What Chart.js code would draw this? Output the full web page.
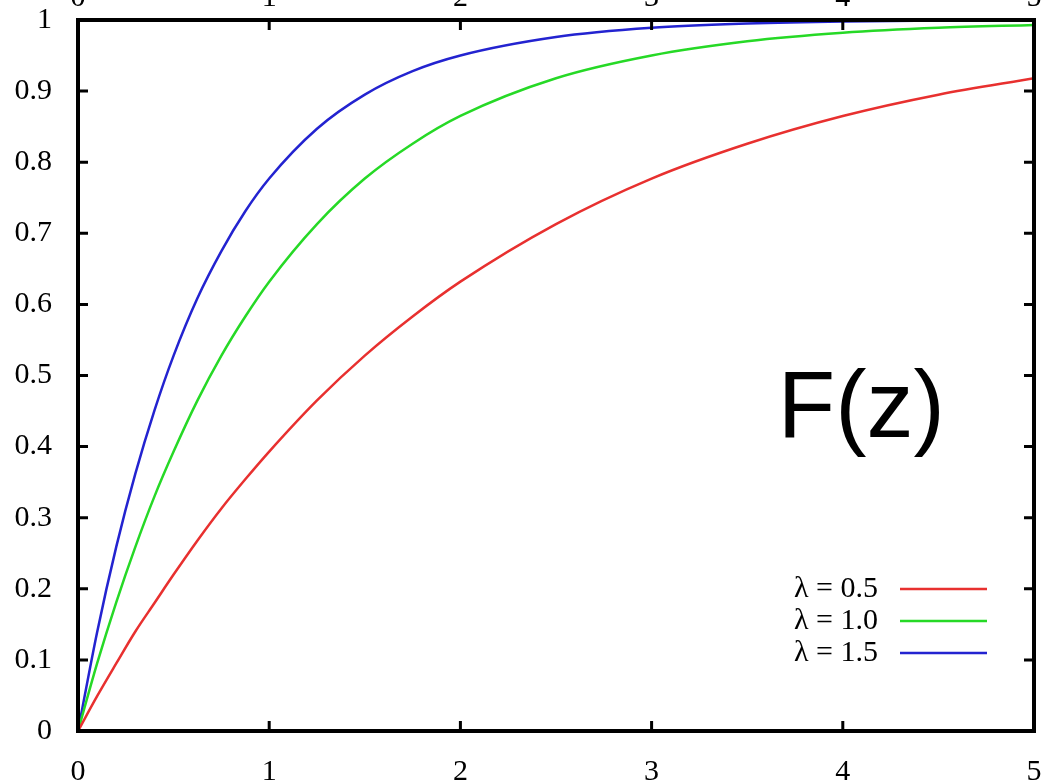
<!DOCTYPE html>
<html>
<head>
<meta charset="utf-8">
<script src="https://cdn.jsdelivr.net/npm/chart.js@4/dist/chart.umd.min.js"></script>
<style>
  html, body { margin: 0; padding: 0; background: #fff; overflow: hidden; }
  #wrap { position: absolute; left: 0; top: -30px; }
</style>
</head>
<body>
<div id="wrap"><canvas id="cdf" width="1046" height="811"></canvas></div>
<script>
// values
const zValues = [0, 0.1, 0.2, 0.3, 0.4, 0.5, 0.625, 0.75, 0.875, 1, 1.25, 1.5, 1.75, 2, 2.5, 3, 3.5, 4, 4.5, 5];
const lambda05 = [0, 0.049, 0.095, 0.14, 0.18, 0.22, 0.268, 0.313, 0.354, 0.393, 0.465, 0.528, 0.583, 0.632, 0.713, 0.777, 0.826, 0.865, 0.895, 0.918];
const lambda10 = [0, 0.095, 0.181, 0.259, 0.33, 0.393, 0.465, 0.528, 0.583, 0.632, 0.713, 0.777, 0.826, 0.865, 0.918, 0.95, 0.97, 0.982, 0.989, 0.993];
const lambda15 = [0, 0.139, 0.259, 0.362, 0.451, 0.528, 0.609, 0.675, 0.731, 0.777, 0.847, 0.895, 0.928, 0.95, 0.976, 0.989, 0.995, 0.998, 0.999, 0.9995];
const seriesLabels = ['λ = 0.5', 'λ = 1.0', 'λ = 1.5'];
const seriesColors = ['#e8302f', '#26d926', '#2323d0'];

const xTicks = [0, 1, 2, 3, 4, 5];
const xTickLabels = ['0', '1', '2', '3', '4', '5'];
const yTicks = [0, 0.1, 0.2, 0.3, 0.4, 0.5, 0.6, 0.7, 0.8, 0.9, 1];
const yTickLabels = ['0', '0.1', '0.2', '0.3', '0.4', '0.5', '0.6', '0.7', '0.8', '0.9', '1'];

const SHIFT = 30; // canvas sits 30px above the window, top labels get cut
const serif = 'Liberation Serif';

const toPoints = vals => zValues.map((z, i) => ({ x: z, y: vals[i] }));

// frame, inward ticks, legend and the F(z) label
const decorations = {
    id: 'decorations',
    afterDraw(chart) {
        const ctx = chart.ctx;
        const a = chart.chartArea;
        const xs = chart.scales.x;
        const ys = chart.scales.y;
        ctx.save();
        ctx.strokeStyle = '#000';
        ctx.lineWidth = 3;
        ctx.beginPath();
        xTicks.forEach(v => {
            const px = xs.getPixelForValue(v);
            ctx.moveTo(px, a.bottom); ctx.lineTo(px, a.bottom - 10);
            ctx.moveTo(px, a.top); ctx.lineTo(px, a.top + 10);
        });
        yTicks.forEach(v => {
            const py = ys.getPixelForValue(v);
            ctx.moveTo(a.left, py); ctx.lineTo(a.left + 10, py);
            ctx.moveTo(a.right, py); ctx.lineTo(a.right - 10, py);
        });
        ctx.stroke();

        ctx.lineWidth = 4;
        ctx.strokeRect(a.left, a.top, a.right - a.left, a.bottom - a.top);

        // legend, bottom right inside the frame
        ctx.font = '30px "' + serif + '"';
        ctx.textAlign = 'right';
        ctx.textBaseline = 'middle';
        chart.data.datasets.forEach((ds, i) => {
            const rowY = a.bottom - 142 + i * 32;
            ctx.fillStyle = '#000';
            ctx.fillText(ds.label, a.right - 156, rowY);
            ctx.strokeStyle = ds.borderColor;
            ctx.lineWidth = 2.5;
            ctx.beginPath();
            ctx.moveTo(a.right - 134, rowY);
            ctx.lineTo(a.right - 47, rowY);
            ctx.stroke();
        });

        ctx.font = '94px "Liberation Sans"';
        ctx.textAlign = 'left';
        ctx.textBaseline = 'alphabetic';
        ctx.fillStyle = '#000';
        ctx.fillText('F(z)', xs.getPixelForValue(3.66), ys.getPixelForValue(0.413));
        ctx.restore();
    }
};

const tickFont = { family: serif, size: 30 };
const noSidePad = s => { s.paddingLeft = 0; s.paddingRight = 0; s.paddingTop = 0; s.paddingBottom = 0; };

new Chart(document.getElementById('cdf').getContext('2d'), {
    type: 'line',
    data: {
        datasets: [lambda05, lambda10, lambda15].map((vals, i) => ({
            label: seriesLabels[i],
            data: toPoints(vals),
            borderColor: seriesColors[i],
            borderWidth: 2.5,
            pointRadius: 0,
            fill: false,
            cubicInterpolationMode: 'monotone'
        }))
    },
    options: {
        responsive: false,
        animation: false,
        layout: { padding: 0 },
        plugins: { legend: { display: false }, tooltip: { enabled: false } },
        scales: {
            x: {
                type: 'linear', position: 'bottom', min: 0, max: 5,
                grid: { display: false }, border: { display: false },
                afterBuildTicks: s => { s.ticks = xTicks.map(v => ({ value: v })); },
                afterFit: s => { s.height = 50; noSidePad(s); },
                ticks: {
                    font: tickFont, color: '#000', padding: 15, maxRotation: 0, autoSkip: false,
                    callback: (v, i) => xTickLabels[i]
                }
            },
            x2: {
                type: 'linear', position: 'top', min: 0, max: 5,
                grid: { display: false }, border: { display: false },
                afterBuildTicks: s => { s.ticks = xTicks.map(v => ({ value: v })); },
                afterFit: s => { s.height = 20 + SHIFT; noSidePad(s); },
                ticks: {
                    font: tickFont, color: '#000', padding: -4, maxRotation: 0, autoSkip: false,
                    callback: (v, i) => xTickLabels[i]
                }
            },
            y: {
                type: 'linear', position: 'left', min: 0, max: 1,
                grid: { display: false }, border: { display: false },
                afterBuildTicks: s => { s.ticks = yTicks.map(v => ({ value: v })); },
                afterFit: s => { s.width = 78; noSidePad(s); },
                ticks: {
                    font: tickFont, color: '#000', padding: 18, autoSkip: false,
                    callback: (v, i) => yTickLabels[i]
                }
            },
            y2: {
                type: 'linear', position: 'right', min: 0, max: 1,
                grid: { display: false }, border: { display: false },
                afterFit: s => { s.width = 12; noSidePad(s); },
                ticks: { display: false }
            }
        }
    },
    plugins: [decorations]
});
</script>
</body>
</html>
